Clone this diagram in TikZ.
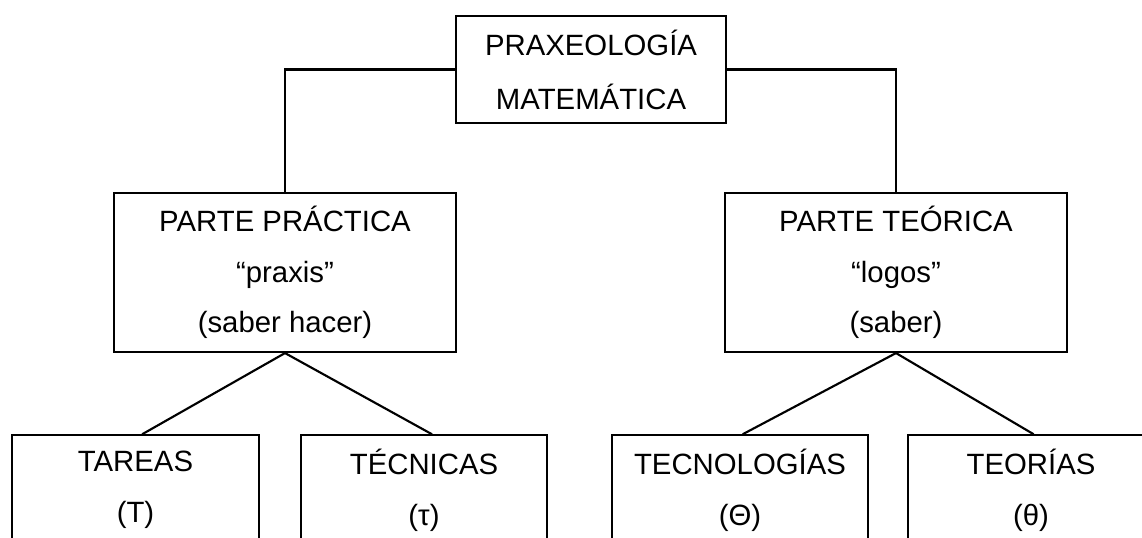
\documentclass[tikz,border=0pt]{standalone}
\usepackage{fontspec}
\setmainfont{Liberation Sans}
\usepackage{tikz}

\begin{document}
\begin{tikzpicture}[x=0.75pt,y=-0.75pt,line width=1.6pt,
  caja/.style={draw,align=center,inner sep=0pt,font=\fontsize{22}{38}\selectfont}]
\useasboundingbox (0,0) rectangle (1142,538);
\clip (0,0) rectangle (1142,538);

\node[caja,minimum width=202.5pt,minimum height=80.25pt,font=\fontsize{22}{40.5}\selectfont]
  (prax) at (591,69.5) {PRAXEOLOGÍA\\MATEMÁTICA};

\node[caja,minimum width=256.5pt,minimum height=119.25pt]
  (practica) at (285,272.5) {PARTE PRÁCTICA\\“praxis”\\(saber hacer)};
\node[caja,minimum width=256.5pt,minimum height=119.25pt]
  (teorica) at (896,272.5) {PARTE TEÓRICA\\“logos”\\(saber)};

\node[caja,minimum width=185.25pt,minimum height=82pt] (tareas) at (135.5,490) {TAREAS\\(T)};
\node[caja,minimum width=184.5pt,minimum height=82pt] (tecnicas) at (424,490) {TÉCNICAS\\(τ)};
\node[caja,minimum width=192pt,minimum height=82pt] (tecnologias) at (740,490) {TECNOLOGÍAS\\(Θ)};
\node[caja,minimum width=184.5pt,minimum height=82pt] (teorias) at (1031,490) {TEORÍAS\\(θ)};

\draw (prax.west) -| (practica.north);
\draw (prax.east) -| (teorica.north);

\draw (practica.south) -- ([xshift=5pt]tareas.north);
\draw (practica.south) -- ([xshift=6pt]tecnicas.north);
\draw (teorica.south) -- ([xshift=2pt]tecnologias.north);
\draw (teorica.south) -- ([xshift=2pt]teorias.north);

\end{tikzpicture}
\end{document}
